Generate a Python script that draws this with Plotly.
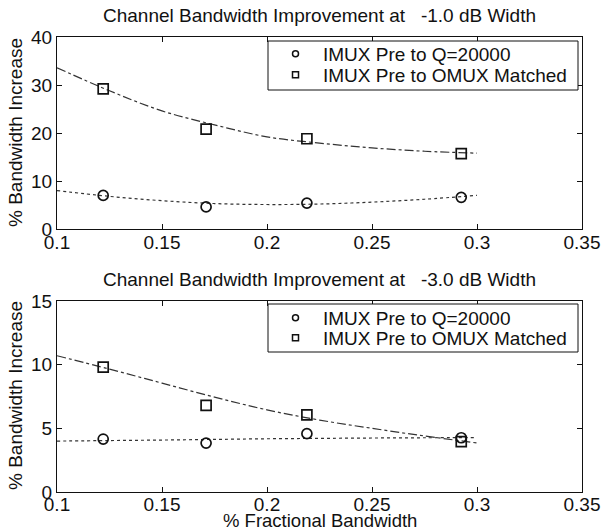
import plotly.graph_objects as go

# ---------------- data ----------------
frac_bw = [0.122, 0.171, 0.219, 0.2925]

top_q20000 = [7.0, 4.6, 5.4, 6.6]
top_omux = [29.2, 20.8, 18.8, 15.7]

bot_q20000 = [4.16, 3.84, 4.58, 4.26]
bot_omux = [9.8, 6.8, 6.05, 3.95]

# fitted curves, read at these x positions
fit_x = [0.1, 0.125, 0.15, 0.175, 0.2, 0.225, 0.25, 0.275, 0.3]
top_fit_q20000 = [8.0, 6.8, 5.9, 5.3, 5.1, 5.2, 5.6, 6.2, 7.0]
top_fit_omux = [33.6, 28.8, 24.6, 21.7, 19.2, 17.9, 16.9, 16.2, 15.8]
bot_fit_q20000 = [4.0, 4.04, 4.08, 4.13, 4.18, 4.21, 4.24, 4.26, 4.27]
bot_fit_omux = [10.7, 9.65, 8.55, 7.45, 6.45, 5.65, 5.0, 4.4, 3.85]

x_ticks = [0.1, 0.15, 0.2, 0.25, 0.3, 0.35]
top_y_ticks = [0, 10, 20, 30, 40]
bot_y_ticks = [0, 5, 10, 15]

titles = ["Channel Bandwidth Improvement at   -1.0 dB Width",
          "Channel Bandwidth Improvement at   -3.0 dB Width"]
names = ["IMUX Pre to Q=20000", "IMUX Pre to OMUX Matched"]
ylabel = "% Bandwidth Increase"
xlabel = "% Fractional Bandwidth"

# ---------------- layout geometry ----------------
W, H = 611, 532
L, R, T, B = 57, 29, 37, 40
PH = H - T - B


def py(p):
    """pixel y (from top) -> paper y"""
    return (H - B - p) / PH


def px(p):
    return (p - L) / (W - L - R)


FONT = "Liberation Sans, Arial, sans-serif"
INK = "#111111"
LINE = "#333333"
FS = 19

fig = go.Figure()

panels = [
    ("x", "y", ("legend", "legend2"), top_q20000, top_omux, top_fit_q20000, top_fit_omux),
    ("x2", "y2", ("legend3", "legend4"), bot_q20000, bot_omux, bot_fit_q20000, bot_fit_omux),
]
for xa, ya, lgs, q, om, fq, fo in panels:
    fig.add_trace(go.Scatter(x=fit_x, y=fq, mode="lines", line=dict(color=LINE, width=1.2, dash="dot", shape="spline"),
                             xaxis=xa, yaxis=ya, showlegend=False, hoverinfo="skip"))
    fig.add_trace(go.Scatter(x=fit_x, y=fo, mode="lines", line=dict(color=LINE, width=1.2, dash="dashdot", shape="spline"),
                             xaxis=xa, yaxis=ya, showlegend=False, hoverinfo="skip"))
    fig.add_trace(go.Scatter(x=frac_bw, y=q, mode="markers",
                             marker=dict(symbol="circle-open", size=10, color=INK, line=dict(width=1.7)),
                             xaxis=xa, yaxis=ya, showlegend=False))
    fig.add_trace(go.Scatter(x=frac_bw, y=om, mode="markers",
                             marker=dict(symbol="square-open", size=10, color=INK, line=dict(width=1.7)),
                             xaxis=xa, yaxis=ya, showlegend=False))
    # legend-only entries with small symbols, one legend per row
    fig.add_trace(go.Scatter(x=[None], y=[None], mode="markers", name=names[0], legend=lgs[0],
                             marker=dict(symbol="circle-open", size=6, color=INK, line=dict(width=1.5)),
                             xaxis=xa, yaxis=ya))
    fig.add_trace(go.Scatter(x=[None], y=[None], mode="markers", name=names[1], legend=lgs[1],
                             marker=dict(symbol="square-open", size=6, color=INK, line=dict(width=1.5)),
                             xaxis=xa, yaxis=ya))

axis_common = dict(showline=True, linecolor=INK, linewidth=1, mirror="ticks", ticks="inside", ticklen=5,
                   tickcolor=INK, showgrid=False, zeroline=False,
                   tickfont=dict(family=FONT, size=FS, color=INK))


def legend_row(ycenter):
    return dict(x=px(268), y=py(ycenter), xanchor="left", yanchor="middle", borderwidth=0,
                bgcolor="rgba(0,0,0,0)", font=dict(family=FONT, size=FS, color=INK), itemwidth=45)


# legend frames
box_top = [(41, 90), (304, 352)]
shapes = [dict(type="rect", xref="paper", yref="paper", x0=px(268), x1=px(578), y0=py(b), y1=py(t),
               line=dict(color=INK, width=1), fillcolor="white", layer="above") for t, b in box_top]

fig.update_layout(
    width=W, height=H,
    margin=dict(l=L, r=R, t=T, b=B),
    paper_bgcolor="white", plot_bgcolor="white",
    font=dict(family=FONT, color=INK),
    xaxis=dict(domain=[0, 1], range=[0.1, 0.35], tickvals=x_ticks, anchor="y", **axis_common),
    yaxis=dict(domain=[py(229), 1], range=[0, 40], tickvals=top_y_ticks, anchor="x", **axis_common),
    xaxis2=dict(domain=[0, 1], range=[0.1, 0.35], tickvals=x_ticks, anchor="y2", **axis_common),
    yaxis2=dict(domain=[0, py(301)], range=[0, 15], tickvals=bot_y_ticks, anchor="x2", **axis_common),
    legend=legend_row(54), legend2=legend_row(75),
    legend3=legend_row(318), legend4=legend_row(338),
    shapes=shapes,
    annotations=[
        dict(text=titles[0], xref="paper", yref="paper", x=0.5, y=py(16), xanchor="center", yanchor="middle",
             showarrow=False, font=dict(family=FONT, size=FS, color=INK)),
        dict(text=titles[1], xref="paper", yref="paper", x=0.5, y=py(279), xanchor="center", yanchor="middle",
             showarrow=False, font=dict(family=FONT, size=FS, color=INK)),
        dict(text=ylabel, xref="paper", yref="paper", x=px(15), y=py(133), xanchor="center", yanchor="middle",
             textangle=-90, showarrow=False, font=dict(family=FONT, size=FS, color=INK)),
        dict(text=ylabel, xref="paper", yref="paper", x=px(15), y=py(396), xanchor="center", yanchor="middle",
             textangle=-90, showarrow=False, font=dict(family=FONT, size=FS, color=INK)),
        dict(text=xlabel, xref="paper", yref="paper", x=0.5, y=py(520), xanchor="center", yanchor="middle",
             showarrow=False, font=dict(family=FONT, size=18.5, color=INK)),
    ],
)

for ax, so in (("xaxis", -4), ("xaxis2", -5)):
    try:
        fig.layout[ax].ticklabelstandoff = so
    except Exception:
        pass

fig.write_html("out.html", config={"displayModeBar": False},
               post_script="document.body.style.margin='0px';")
